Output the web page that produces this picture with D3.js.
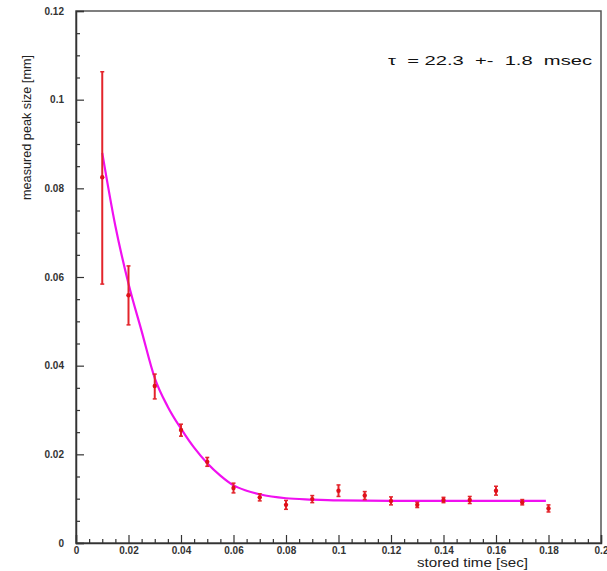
<!DOCTYPE html>
<html>
<head>
<meta charset="utf-8">
<script src="https://cdn.jsdelivr.net/npm/d3@7"></script>
<style>
  html, body { margin: 0; padding: 0; background: #fff; }
  svg { display: block; }
  text { font-family: "Liberation Sans", Arial, Helvetica, sans-serif; }
</style>
</head>
<body>
<svg id="chart" width="607" height="571"></svg>
<script>
// ---- data ----
const times = [0.01, 0.02, 0.03, 0.04, 0.05, 0.06, 0.07, 0.08, 0.09, 0.10, 0.11, 0.12, 0.13, 0.14, 0.15, 0.16, 0.17, 0.18];
const peakSize = [0.0825, 0.0559, 0.0354, 0.0255, 0.0183, 0.0124, 0.0103, 0.0086, 0.0099, 0.0118, 0.0107, 0.0095, 0.0086, 0.0097, 0.0097, 0.0118, 0.0092, 0.0078];
const errLow = [0.0241, 0.0067, 0.0029, 0.0014, 0.0010, 0.0011, 0.0008, 0.0010, 0.0008, 0.0013, 0.0009, 0.0009, 0.0006, 0.0006, 0.0008, 0.0010, 0.0006, 0.0008];
const errHigh = [0.0238, 0.0066, 0.0027, 0.0013, 0.0010, 0.0011, 0.0008, 0.0010, 0.0008, 0.0013, 0.0009, 0.0009, 0.0006, 0.0006, 0.0008, 0.0010, 0.0006, 0.0008];
const fitTimes = [0.010, 0.015, 0.020, 0.025, 0.030, 0.035, 0.040, 0.045, 0.050, 0.055, 0.060, 0.065, 0.070, 0.080, 0.090, 0.100, 0.120, 0.140, 0.160, 0.179];
const fitValues = [0.0880, 0.0715, 0.0585, 0.0478, 0.0372, 0.0307, 0.0258, 0.0215, 0.0180, 0.0152, 0.0130, 0.0118, 0.0110, 0.0101, 0.0098, 0.0096, 0.0095, 0.0095, 0.0095, 0.0095];
const xTickLabels = ["0", "0.02", "0.04", "0.06", "0.08", "0.1", "0.12", "0.14", "0.16", "0.18", "0.2"];
const yTickLabels = ["0", "0.02", "0.04", "0.06", "0.08", "0.1", "0.12"];
const xTitle = "stored time [sec]";
const yTitle = "measured peak size [mm]";
const annotation = "\u03C4  = 22.3  +-  1.8  msec";

(function () {
// ---- layout ----
const svg = d3.select("#chart");
const pLeft = 76, pRight = 601, pTop = 11, pBottom = 543;
const x = d3.scaleLinear().domain([0, 0.2]).range([pLeft, pRight]);
const y = d3.scaleLinear().domain([0, 0.12]).range([pBottom, pTop]);

const axisColor = "#333";
const red = "#e3242b";

// frame
svg.append("rect")
  .attr("x", pLeft).attr("y", pTop)
  .attr("width", pRight - pLeft).attr("height", pBottom - pTop)
  .attr("fill", "none").attr("stroke", "#555").attr("stroke-width", 1.5);

// x axis ticks (inside)
const xMajor = xTickLabels.map(d => +d);
const xMinor = d3.range(0, 41).map(i => i * 0.005).filter(v => !xMajor.some(m => Math.abs(m - v) < 1e-9));
const xAxisMajor = d3.axisTop(x).tickValues(xMajor).tickSize(8).tickFormat("");
const xAxisMinor = d3.axisTop(x).tickValues(xMinor).tickSize(4).tickFormat("");
svg.append("g").attr("transform", `translate(0,${pBottom})`).call(xAxisMajor)
  .call(g => g.select(".domain").attr("stroke", axisColor).attr("stroke-width", 1.5))
  .call(g => g.selectAll("line").attr("stroke", axisColor).attr("stroke-width", 1.2));
svg.append("g").attr("transform", `translate(0,${pBottom})`).call(xAxisMinor)
  .call(g => g.select(".domain").remove())
  .call(g => g.selectAll("line").attr("stroke", axisColor).attr("stroke-width", 1.2));
const xLabelAxis = d3.axisBottom(x).tickValues(xMajor).tickSize(0).tickPadding(4)
  .tickFormat((d, i) => xTickLabels[i]);
svg.append("g").attr("transform", `translate(0,${pBottom})`).call(xLabelAxis)
  .call(g => g.select(".domain").remove())
  .call(g => g.selectAll("text").attr("font-size", 10).attr("font-weight", "bold").attr("fill", "#333")
    .attr("font-family", "Liberation Sans, Arial, sans-serif"));

// y axis ticks (inside)
const yMajor = yTickLabels.map(d => +d);
const yMinor = d3.range(0, 25).map(i => i * 0.005).filter(v => !yMajor.some(m => Math.abs(m - v) < 1e-9));
const yAxisMajor = d3.axisRight(y).tickValues(yMajor).tickSize(8).tickFormat("");
const yAxisMinor = d3.axisRight(y).tickValues(yMinor).tickSize(4).tickFormat("");
svg.append("g").attr("transform", `translate(${pLeft},0)`).call(yAxisMajor)
  .call(g => g.select(".domain").attr("stroke", axisColor).attr("stroke-width", 1.5))
  .call(g => g.selectAll("line").attr("stroke", axisColor).attr("stroke-width", 1.2));
svg.append("g").attr("transform", `translate(${pLeft},0)`).call(yAxisMinor)
  .call(g => g.select(".domain").remove())
  .call(g => g.selectAll("line").attr("stroke", axisColor).attr("stroke-width", 1.2));
const yLabelAxis = d3.axisLeft(y).tickValues(yMajor).tickSize(0).tickPadding(12)
  .tickFormat((d, i) => yTickLabels[i]);
svg.append("g").attr("transform", `translate(${pLeft},0)`).call(yLabelAxis)
  .call(g => g.select(".domain").remove())
  .call(g => g.selectAll("text").attr("font-size", 10).attr("font-weight", "bold").attr("fill", "#333")
    .attr("font-family", "Liberation Sans, Arial, sans-serif"));

// titles
svg.append("text")
  .attr("x", 417).attr("y", 567)
  .attr("font-size", 12.5).attr("fill", "#222")
  .attr("textLength", 111).attr("lengthAdjust", "spacingAndGlyphs")
  .text(xTitle);
svg.append("text")
  .attr("transform", `translate(31,200) rotate(-90)`)
  .attr("font-size", 12).attr("fill", "#222")
  .attr("textLength", 145).attr("lengthAdjust", "spacingAndGlyphs")
  .text(yTitle);

// annotation
svg.append("text")
  .attr("x", 388).attr("y", 65)
  .attr("font-size", 13.5).attr("fill", "#111")
  .style("white-space", "pre")
  .attr("xml:space", "preserve")
  .attr("textLength", 204).attr("lengthAdjust", "spacingAndGlyphs")
  .text(annotation);

// fit curve
const fitData = fitTimes.map((t, i) => [t, fitValues[i]]);
svg.append("path")
  .datum(fitData)
  .attr("fill", "none")
  .attr("stroke", "#f010f0")
  .attr("stroke-width", 2.2)
  .attr("d", d3.line().x(d => x(d[0])).y(d => y(d[1])).curve(d3.curveMonotoneX));

// error bars and points
const pts = times.map((t, i) => ({ t, v: peakSize[i], lo: peakSize[i] - errLow[i], hi: peakSize[i] + errHigh[i] }));
const g = svg.append("g");
g.selectAll("line.err").data(pts).join("line")
  .attr("class", "err")
  .attr("x1", d => x(d.t)).attr("x2", d => x(d.t))
  .attr("y1", d => y(d.lo)).attr("y2", d => y(d.hi))
  .attr("stroke", red).attr("stroke-width", 2);
g.selectAll("line.capHi").data(pts).join("line")
  .attr("class", "capHi")
  .attr("x1", d => x(d.t) - 2).attr("x2", d => x(d.t) + 2)
  .attr("y1", d => y(d.hi)).attr("y2", d => y(d.hi))
  .attr("stroke", red).attr("stroke-width", 1.5);
g.selectAll("line.capLo").data(pts).join("line")
  .attr("class", "capLo")
  .attr("x1", d => x(d.t) - 2).attr("x2", d => x(d.t) + 2)
  .attr("y1", d => y(d.lo)).attr("y2", d => y(d.lo))
  .attr("stroke", red).attr("stroke-width", 1.5);
g.selectAll("circle").data(pts).join("circle")
  .attr("cx", d => x(d.t)).attr("cy", d => y(d.v))
  .attr("r", 2.2).attr("fill", "#e0101a");
})();
</script>
</body>
</html>
